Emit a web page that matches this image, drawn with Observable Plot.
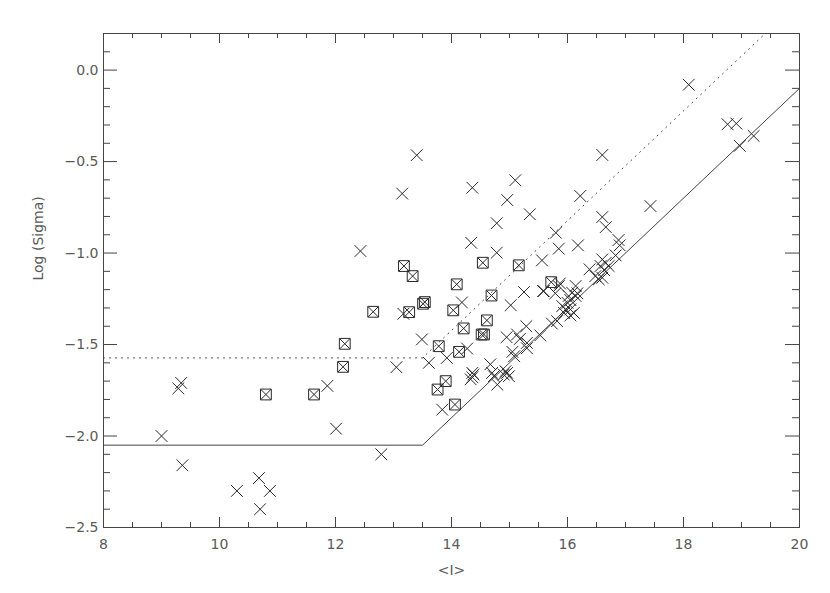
<!DOCTYPE html>
<html>
<head>
<meta charset="utf-8">
<script src="https://cdn.jsdelivr.net/npm/d3@7"></script>
<script src="https://cdn.jsdelivr.net/npm/@observablehq/plot@0.6"></script>
<style>
  html, body { margin: 0; padding: 0; background: white; }
</style>
</head>
<body>
<div id="chart"></div>
<script>
// Plain crosses
const crossX = [
  9.00, 9.36, 10.30, 10.68, 10.87, 10.70, 9.34, 9.29, 11.86, 12.01, 12.79, 13.05, 13.17, 13.49, 13.61, 13.84, 13.40, 13.15, 12.43,
  14.36, 15.10, 14.96, 15.35, 14.78, 16.22, 16.60, 16.66, 14.34, 14.78, 15.80, 15.85, 16.18, 15.56, 14.18, 15.25, 15.02, 15.58,
  14.27, 13.92, 14.95, 15.13, 15.18, 15.29, 15.53, 15.30, 15.05, 15.08, 14.67, 14.36, 14.33, 14.38, 14.36, 14.70, 14.73, 14.79,
  14.90, 14.96, 14.99, 14.93, 15.73, 15.82, 15.30,
  16.88, 16.90, 16.83, 16.60, 16.66, 16.71, 16.57, 16.63, 16.38, 16.48, 16.54, 16.60, 15.85, 15.87, 16.14, 15.59, 15.79, 16.08,
  16.14, 16.02, 16.17, 16.05, 16.00, 15.91, 15.97, 16.05, 16.11, 15.94, 16.05,
  18.09, 18.76, 18.91, 19.21, 18.97, 17.43, 16.60
];
const crossY = [
  -2.00, -2.16, -2.30, -2.23, -2.30, -2.40, -1.71, -1.74, -1.726, -1.96, -2.10, -1.624, -1.332, -1.472, -1.60, -1.856, -0.465, -0.675, -0.989,
  -0.643, -0.602, -0.710, -0.788, -0.837, -0.688, -0.803, -0.858, -0.944, -0.998, -0.889, -0.976, -0.958, -1.040, -1.270, -1.213, -1.285, -1.208,
  -1.522, -1.573, -1.460, -1.445, -1.469, -1.400, -1.450, -1.520, -1.540, -1.564, -1.608, -1.655, -1.690, -1.664, -1.679, -1.655, -1.673, -1.719,
  -1.664, -1.655, -1.673, -1.646, -1.385, -1.372, -1.491,
  -0.929, -0.958, -1.013, -1.035, -1.053, -1.071, -1.071, -1.093, -1.089, -1.126, -1.144, -1.135, -1.181, -1.166, -1.180, -1.208, -1.220, -1.217,
  -1.235, -1.235, -1.220, -1.257, -1.272, -1.290, -1.308, -1.308, -1.327, -1.327, -1.341,
  -0.080, -0.296, -0.292, -0.360, -0.414, -0.743, -0.464
];
// Boxed crosses
const boxX = [
  10.80, 11.63, 12.13, 12.16, 12.65, 13.27, 13.51, 13.54, 13.18, 13.33, 13.78, 13.76, 13.90, 14.06, 14.09, 14.54, 15.16, 14.69,
  15.72, 14.03, 14.61, 14.21, 14.52, 14.56, 14.13
];
const boxY = [
  -1.773, -1.773, -1.622, -1.496, -1.321, -1.323, -1.277, -1.268, -1.071, -1.126, -1.509, -1.746, -1.700, -1.828, -1.171, -1.053, -1.067, -1.232,
  -1.159, -1.313, -1.368, -1.412, -1.445, -1.445, -1.540
];
// Detection limit curves
const limitX = [8, 13.5, 20];
const limitY = [-2.05, -2.05, -0.10];
const limit3X = [8, 13.5, 20];
const limit3Y = [-1.573, -1.573, 0.377];
// Axis ticks
const xMajor = [8, 10, 12, 14, 16, 18, 20];
const xMinor = [8.5, 9, 9.5, 10.5, 11, 11.5, 12.5, 13, 13.5, 14.5, 15, 15.5, 16.5, 17, 17.5, 18.5, 19, 19.5];
const yMajor = [0.0, -0.5, -1.0, -1.5, -2.0, -2.5];
const yMinor = [0.1, -0.1, -0.2, -0.3, -0.4, -0.6, -0.7, -0.8, -0.9, -1.1, -1.2, -1.3, -1.4, -1.6, -1.7, -1.8, -1.9, -2.1, -2.2, -2.3, -2.4];
const xLabel = "<I>";
const yLabel = "Log (Sigma)";

const crosses = crossX.map((x, i) => ({x, y: crossY[i]}));
const boxes = boxX.map((x, i) => ({x, y: boxY[i]}));
const lim = limitX.map((x, i) => ({x, y: limitY[i]}));
const lim3 = limit3X.map((x, i) => ({x, y: limit3Y[i]}));

const W = 830, H = 593, mT = 33, mB = 66, mL = 103, mR = 31;
const innerH = H - mT - mB, innerW = W - mL - mR;
const ink = "#444";
const mark = "#2a2a2a";
const textCol = "#5a5a5a";

const chart = Plot.plot({
  width: W, height: H,
  marginTop: mT, marginBottom: mB, marginLeft: mL, marginRight: mR,
  x: {domain: [8, 20]},
  y: {domain: [-2.5, 0.2]},
  style: {fontFamily: "DejaVu Sans, sans-serif", fontSize: "14px", color: textCol, background: "white"},
  marks: [
    Plot.line(lim, {x: "x", y: "y", stroke: ink, strokeWidth: 1, clip: true}),
    Plot.line(lim3, {x: "x", y: "y", stroke: ink, strokeWidth: 1, strokeDasharray: "1,5", clip: true}),
    Plot.dot(crosses, {x: "x", y: "y", symbol: "times", r: 5.4, stroke: mark, strokeWidth: 1}),
    Plot.dot(boxes, {x: "x", y: "y", symbol: "times", r: 4.7, stroke: mark, strokeWidth: 1}),
    Plot.dot(boxes, {x: "x", y: "y", symbol: "square", r: 6.1, stroke: mark, strokeWidth: 1}),
    // inward ticks
    Plot.tickX(xMajor, {x: d => d, insetTop: innerH - 10, stroke: ink}),
    Plot.tickX(xMajor, {x: d => d, insetBottom: innerH - 10, stroke: ink}),
    Plot.tickX(xMinor, {x: d => d, insetTop: innerH - 5, stroke: ink}),
    Plot.tickX(xMinor, {x: d => d, insetBottom: innerH - 5, stroke: ink}),
    Plot.tickY(yMajor, {y: d => d, insetRight: innerW - 14, stroke: ink}),
    Plot.tickY(yMajor, {y: d => d, insetLeft: innerW - 14, stroke: ink}),
    Plot.tickY(yMinor, {y: d => d, insetRight: innerW - 7, stroke: ink}),
    Plot.tickY(yMinor, {y: d => d, insetLeft: innerW - 7, stroke: ink}),
    Plot.frame({stroke: ink, strokeWidth: 1}),
    Plot.axisX(xMajor, {tickSize: 0, tickPadding: 12, label: null, fill: textCol}),
    Plot.axisY(yMajor, {tickSize: 0, tickPadding: 5, tickFormat: d3.format(".1f"), label: null, fill: textCol}),
    Plot.text([xLabel], {text: d => d, frameAnchor: "bottom", dy: 47, fill: textCol}),
    Plot.text([yLabel], {text: d => d, frameAnchor: "left", dx: -65, rotate: -90, fill: textCol})
  ]
});
document.getElementById("chart").appendChild(chart);
</script>
</body>
</html>
